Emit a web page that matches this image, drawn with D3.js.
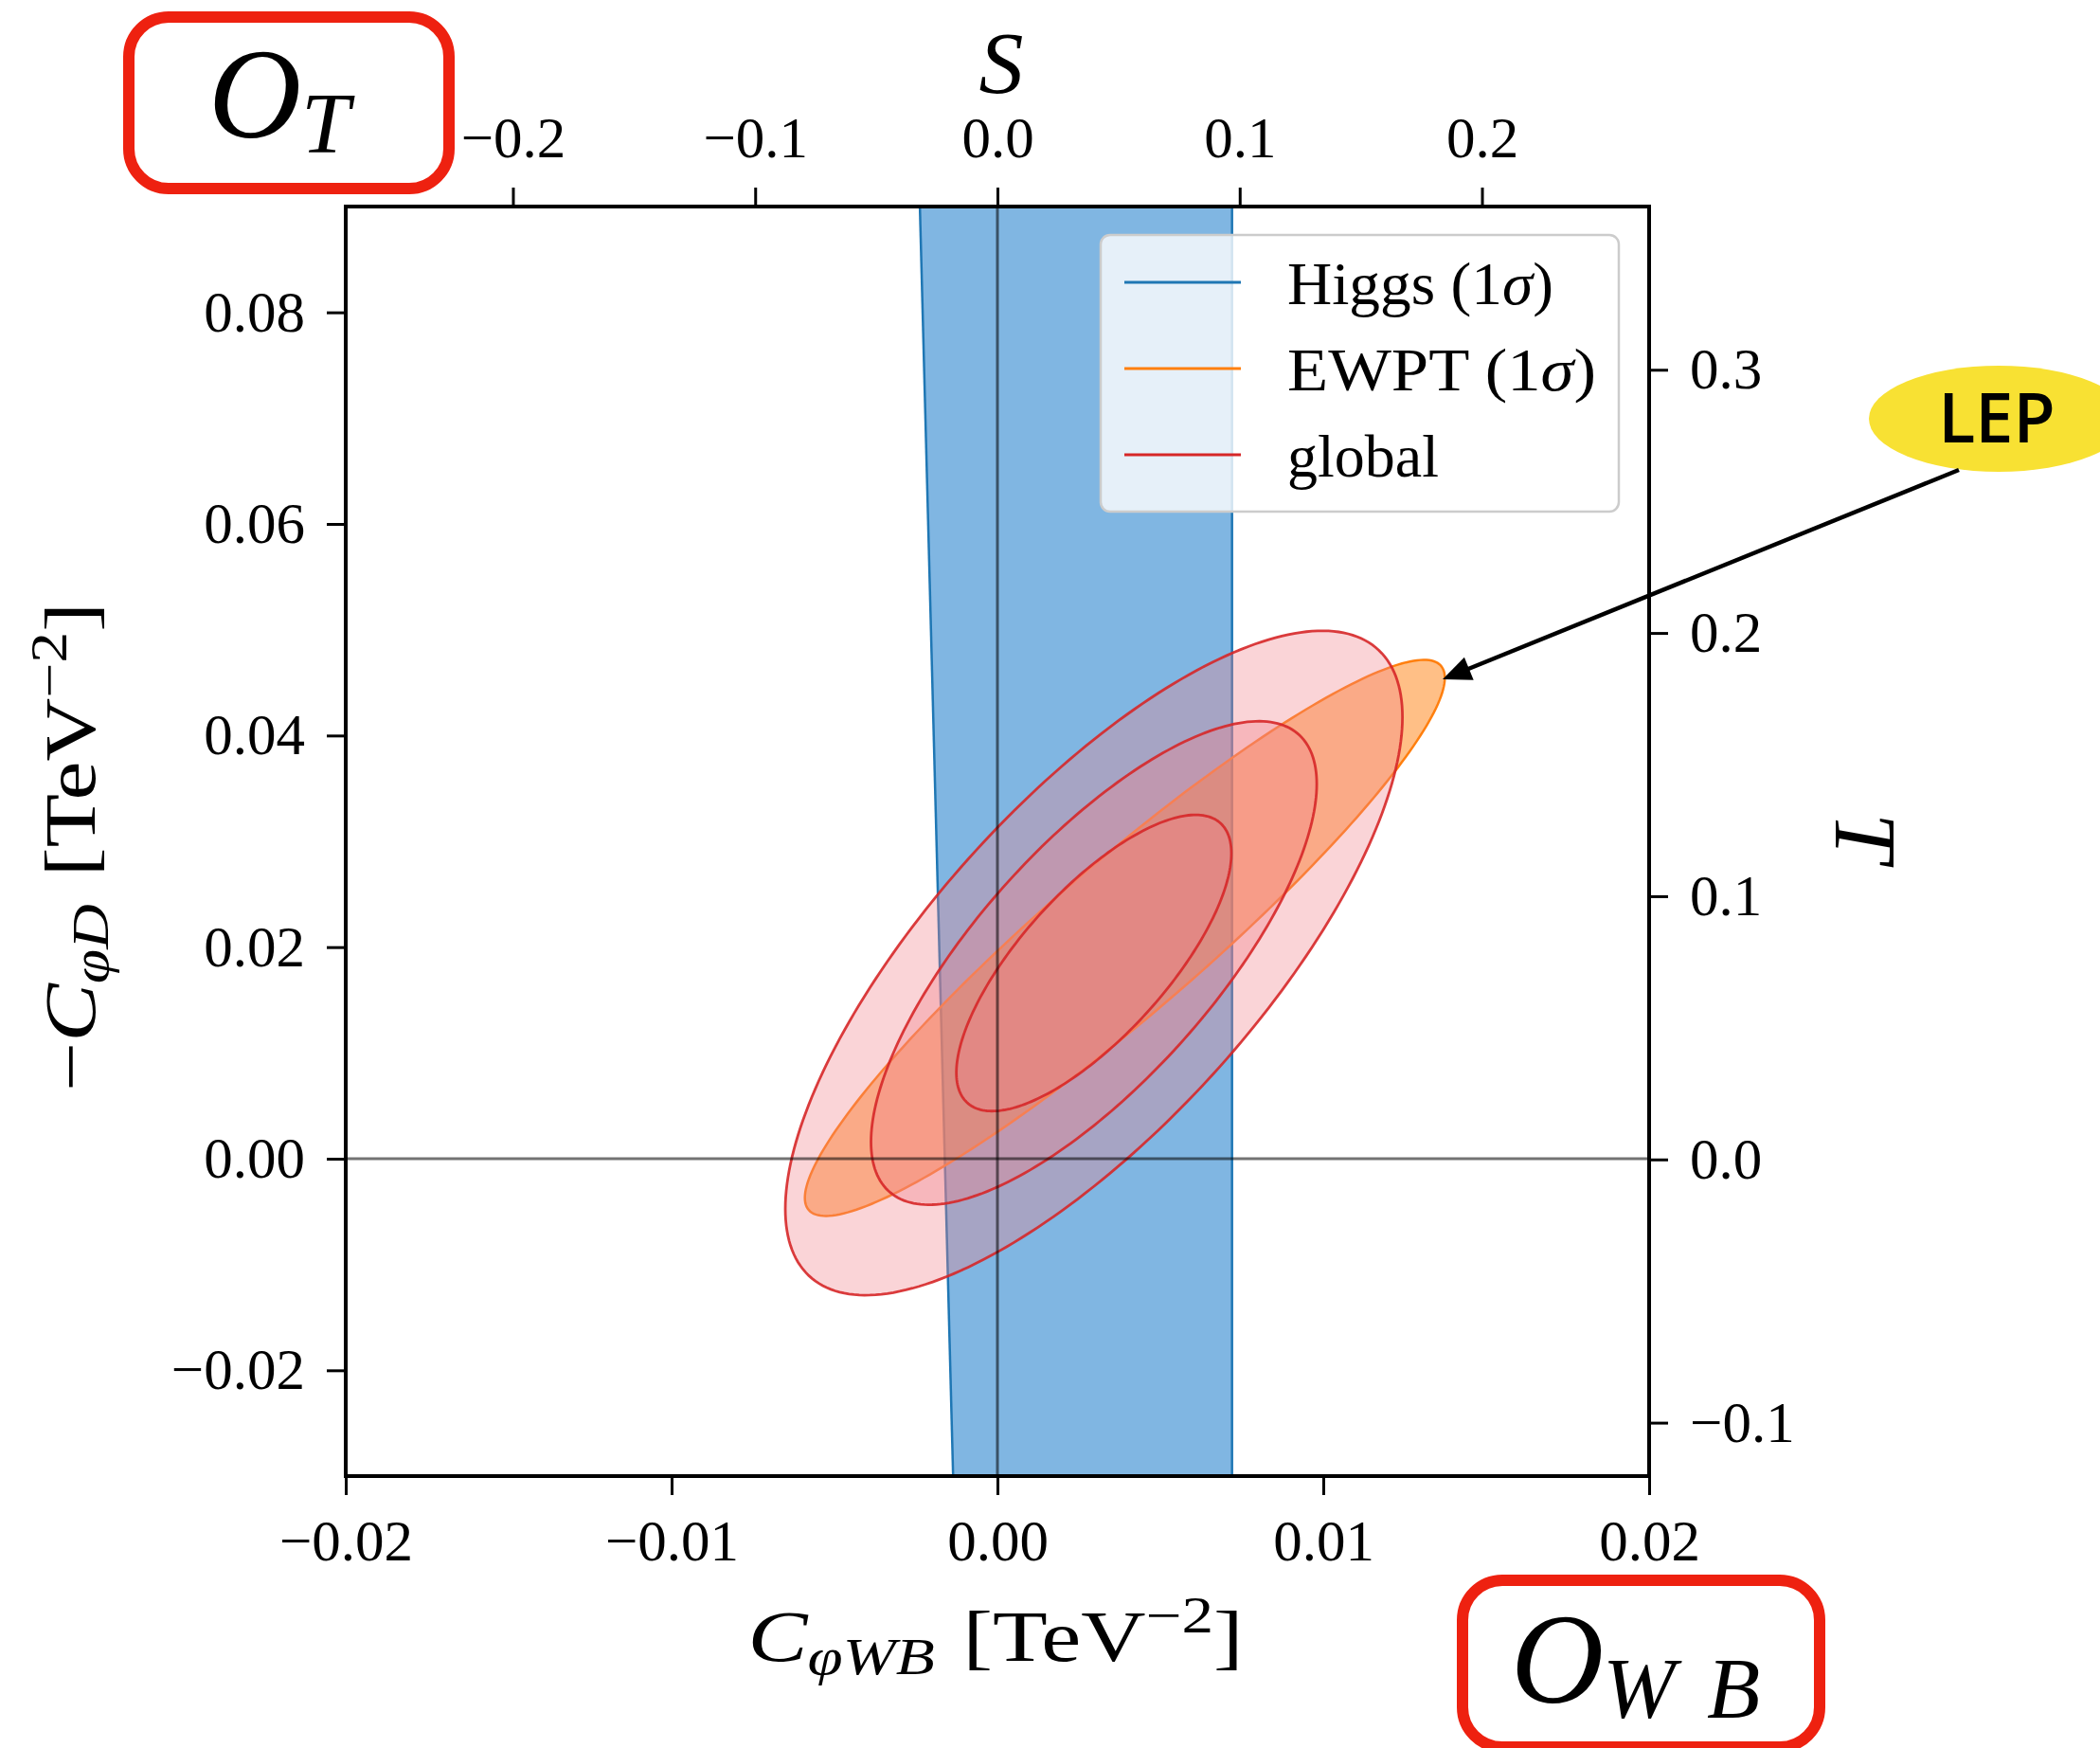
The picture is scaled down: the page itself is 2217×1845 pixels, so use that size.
<!DOCTYPE html>
<html>
<head>
<meta charset="utf-8">
<script src="https://cdn.jsdelivr.net/npm/d3@7"></script>
<style>
body { margin: 0; background: #fff; }
svg text { font-family: "Liberation Serif", "DejaVu Serif", serif; fill: #000; }
</style>
</head>
<body>
<script>
// axis ranges
var xDomain = [-0.02, 0.02],
    yDomain = [-0.03, 0.09],
    sDomain = [-0.269, 0.269],   // top axis, S
    tDomain = [-0.1203, 0.362];  // right axis, T

var xTicks = [-0.02, -0.01, 0.00, 0.01, 0.02],
    yTicks = [-0.02, 0.00, 0.02, 0.04, 0.06, 0.08],
    sTicks = [-0.2, -0.1, 0.0, 0.1, 0.2],
    tTicks = [-0.1, 0.0, 0.1, 0.2, 0.3];

// Higgs (1 sigma) band, left and right edges as [C_WB, -C_D]
var higgsLeft = [[-0.00238, 0.09], [-0.00136, -0.03]],
    higgsRight = [[0.0072, 0.09], [0.0072, -0.03]];

// EWPT (1 sigma) ellipse: centre, half extents in x and y, correlation
var ewptCentre = [0.00391, 0.02087],
    ewptHalf = [0.00982, 0.02628],
    ewptRho = 0.935;

// global fit contours, outer to inner
var globalCentre = [0.00296, 0.0185],
    globalRho = 0.74,
    globalHalfX = [0.00947, 0.00684, 0.00422],
    globalHalfY = [0.0314, 0.02285, 0.0140];

var legendNames = ["Higgs", "EWPT", "global"],
    legendColors = ["#1f77b4", "#ff7f0e", "#d62728"];

var W = 2217, H = 1845;
var margin = {left: 365, top: 218},
    width = 1376,
    height = 1340;

var svg = d3.select("body").append("svg")
    .attr("width", W)
    .attr("height", H)
    .style("background", "#fff");

var x = d3.scaleLinear().domain(xDomain).range([0, width]),
    y = d3.scaleLinear().domain(yDomain).range([height, 0]),
    s = d3.scaleLinear().domain(sDomain).range([0, width]),
    t = d3.scaleLinear().domain(tDomain).range([height, 0]);

var g = svg.append("g").attr("transform", "translate(" + margin.left + "," + margin.top + ")");

g.append("clipPath").attr("id", "plotClip")
  .append("rect").attr("width", width).attr("height", height);

var plot = g.append("g").attr("clip-path", "url(#plotClip)");

var line = d3.line().x(function(d) { return x(d[0]); }).y(function(d) { return y(d[1]); });
var ellipseLine = d3.line().x(function(d) { return x(d[0]); }).y(function(d) { return y(d[1]); })
    .curve(d3.curveLinearClosed);

function ellipsePoints(c, hx, hy, rho) {
    var pts = [], k = Math.sqrt(1 - rho*rho);
    for (var i = 0; i < 240; i++) {
        var a = 2*Math.PI*i/240;
        pts.push([c[0] + hx*Math.cos(a), c[1] + hy*(rho*Math.cos(a) + k*Math.sin(a))]);
    }
    return pts;
}

// Higgs band
var band = higgsLeft.concat(higgsRight.slice().reverse());
plot.append("path")
    .attr("d", line(band) + "Z")
    .attr("fill", "#80b6e2");
[higgsLeft, higgsRight].forEach(function(e) {
    plot.append("path").attr("d", line(e))
        .attr("fill", "none").attr("stroke", "#1f77b4").attr("stroke-width", 2.5);
});

// EWPT
plot.append("path")
    .attr("d", ellipseLine(ellipsePoints(ewptCentre, ewptHalf[0], ewptHalf[1], ewptRho)))
    .attr("fill", "#ff7f0e").attr("fill-opacity", 0.5)
    .attr("stroke", "#ff7f0e").attr("stroke-width", 2.5);

// global contours
globalHalfX.forEach(function(hx, i) {
    plot.append("path")
        .attr("d", ellipseLine(ellipsePoints(globalCentre, hx, globalHalfY[i], globalRho)))
        .attr("fill", "rgb(240,128,138)").attr("fill-opacity", 0.34)
        .attr("stroke", "#d62728").attr("stroke-opacity", 0.9).attr("stroke-width", 2.8);
});

// zero lines
plot.append("line")
    .attr("x1", x(0)).attr("x2", x(0)).attr("y1", 0).attr("y2", height)
    .attr("stroke", "#000").attr("stroke-opacity", 0.55).attr("stroke-width", 3);
plot.append("line")
    .attr("x1", 0).attr("x2", width).attr("y1", y(0)).attr("y2", y(0))
    .attr("stroke", "#000").attr("stroke-opacity", 0.55).attr("stroke-width", 3);

// legend
var leg = g.append("g").attr("transform", "translate(" + (1162 - margin.left) + "," + (248 - margin.top) + ")");
leg.append("rect")
    .attr("width", 547).attr("height", 292).attr("rx", 10)
    .attr("fill", "#fff").attr("fill-opacity", 0.8)
    .attr("stroke", "#cccccc").attr("stroke-width", 2.5);
var legendLen = [281, 326, 160];
legendNames.forEach(function(name, i) {
    var ly = 50 + i*91;
    leg.append("line")
        .attr("x1", 25).attr("x2", 148).attr("y1", ly).attr("y2", ly)
        .attr("stroke", legendColors[i]).attr("stroke-width", 3);
    var txt = leg.append("text")
        .attr("x", 197).attr("y", ly + 23)
        .attr("font-size", 63)
        .attr("textLength", legendLen[i]).attr("lengthAdjust", "spacingAndGlyphs");
    txt.append("tspan").text(name);
    if (i < 2) {
        txt.append("tspan").text(" (1");
        txt.append("tspan").attr("font-style", "italic").text("σ");
        txt.append("tspan").text(")");
    }
});

// axes
function fmt(n) { return d3.format("." + n + "f"); }
var tickStyle = function(sel) {
    sel.select(".domain").remove();
    sel.selectAll(".tick line").attr("stroke", "#000").attr("stroke-width", 3);
    sel.selectAll(".tick text").attr("font-size", 61).attr("fill", "#000");
};

g.append("g").attr("transform", "translate(0," + height + ")")
    .call(d3.axisBottom(x).tickValues(xTicks).tickFormat(fmt(2)).tickSize(20).tickPadding(26))
    .call(tickStyle);
g.append("g")
    .call(d3.axisLeft(y).tickValues(yTicks).tickFormat(fmt(2)).tickSize(20).tickPadding(23))
    .call(tickStyle);
g.append("g")
    .call(d3.axisTop(s).tickValues(sTicks).tickFormat(fmt(1)).tickSize(20).tickPadding(32))
    .call(tickStyle);
g.append("g").attr("transform", "translate(" + width + ",0)")
    .call(d3.axisRight(t).tickValues(tTicks).tickFormat(fmt(1)).tickSize(20).tickPadding(23))
    .call(tickStyle);

g.append("rect")
    .attr("width", width).attr("height", height)
    .attr("fill", "none").attr("stroke", "#000").attr("stroke-width", 4);

// axis labels
var xl = svg.append("text")
    .attr("x", 1051).attr("y", 1753)
    .attr("text-anchor", "middle").attr("font-size", 76)
    .attr("textLength", 523).attr("lengthAdjust", "spacingAndGlyphs");
xl.append("tspan").attr("font-style", "italic").text("C");
xl.append("tspan").attr("font-style", "italic").attr("font-size", 54).attr("dy", 14).text("φWB");
xl.append("tspan").attr("dx", 24).attr("dy", -14).text("[TeV");
xl.append("tspan").attr("font-size", 54).attr("dy", -30).text("−2");
xl.append("tspan").attr("dy", 30).text("]");

var yl = svg.append("text")
    .attr("transform", "translate(100,894) rotate(-90)")
    .attr("text-anchor", "middle").attr("font-size", 76)
    .attr("textLength", 516).attr("lengthAdjust", "spacingAndGlyphs");
yl.append("tspan").text("−");
yl.append("tspan").attr("font-style", "italic").text("C");
yl.append("tspan").attr("font-style", "italic").attr("font-size", 54).attr("dy", 14).text("φD");
yl.append("tspan").attr("dx", 24).attr("dy", -14).text("[TeV");
yl.append("tspan").attr("font-size", 54).attr("dy", -30).text("−2");
yl.append("tspan").attr("dy", 30).text("]");

svg.append("text")
    .attr("x", 1057).attr("y", 98)
    .attr("text-anchor", "middle").attr("font-size", 94).attr("font-style", "italic")
    .text("S");
svg.append("text")
    .attr("transform", "translate(1938,884) rotate(90)")
    .attr("text-anchor", "middle").attr("font-size", 94).attr("font-style", "italic")
    .text("T");

// operator boxes
function opBox(bx, by, bw, bh, tx, ty, subs) {
    svg.append("rect")
        .attr("x", bx).attr("y", by).attr("width", bw).attr("height", bh).attr("rx", 42)
        .attr("fill", "none").attr("stroke", "#ee2110").attr("stroke-width", 12);
    var tt = svg.append("text").attr("x", tx).attr("y", ty).attr("font-style", "italic");
    tt.append("tspan").attr("font-size", 136).text("O");
    subs.forEach(function(sb) {
        tt.append("tspan").attr("font-size", 92).attr("x", sb[1]).attr("y", ty + 16).text(sb[0]);
    });
}
opBox(136, 18, 338, 181, 220, 145, [["T", 318]]);
opBox(1544, 1668, 377, 176, 1595, 1797, [["W", 1692], ["B", 1802]]);

// LEP annotation
svg.append("ellipse")
    .attr("cx", 2110).attr("cy", 442).attr("rx", 137).attr("ry", 56)
    .attr("fill", "#f8e133");
svg.append("text")
    .attr("x", 2108).attr("y", 467)
    .attr("text-anchor", "middle").attr("font-size", 72)
    .style("font-family", "'Open Sans', 'DejaVu Sans', sans-serif").attr("font-weight", 600)
    .text("LEP");

var a0 = [2068, 496], a1 = [1523, 717];
var adx = a1[0] - a0[0], ady = a1[1] - a0[1], alen = Math.sqrt(adx*adx + ady*ady),
    ux = adx/alen, uy = ady/alen, hl = 30, hw = 13;
svg.append("line")
    .attr("x1", a0[0]).attr("y1", a0[1])
    .attr("x2", a1[0] - ux*hl*0.8).attr("y2", a1[1] - uy*hl*0.8)
    .attr("stroke", "#000").attr("stroke-width", 4.5);
svg.append("path")
    .attr("d", "M" + a1[0] + "," + a1[1] +
        "L" + (a1[0] - ux*hl - uy*hw) + "," + (a1[1] - uy*hl + ux*hw) +
        "L" + (a1[0] - ux*hl + uy*hw) + "," + (a1[1] - uy*hl - ux*hw) + "Z")
    .attr("fill", "#000");
</script>
</body>
</html>
